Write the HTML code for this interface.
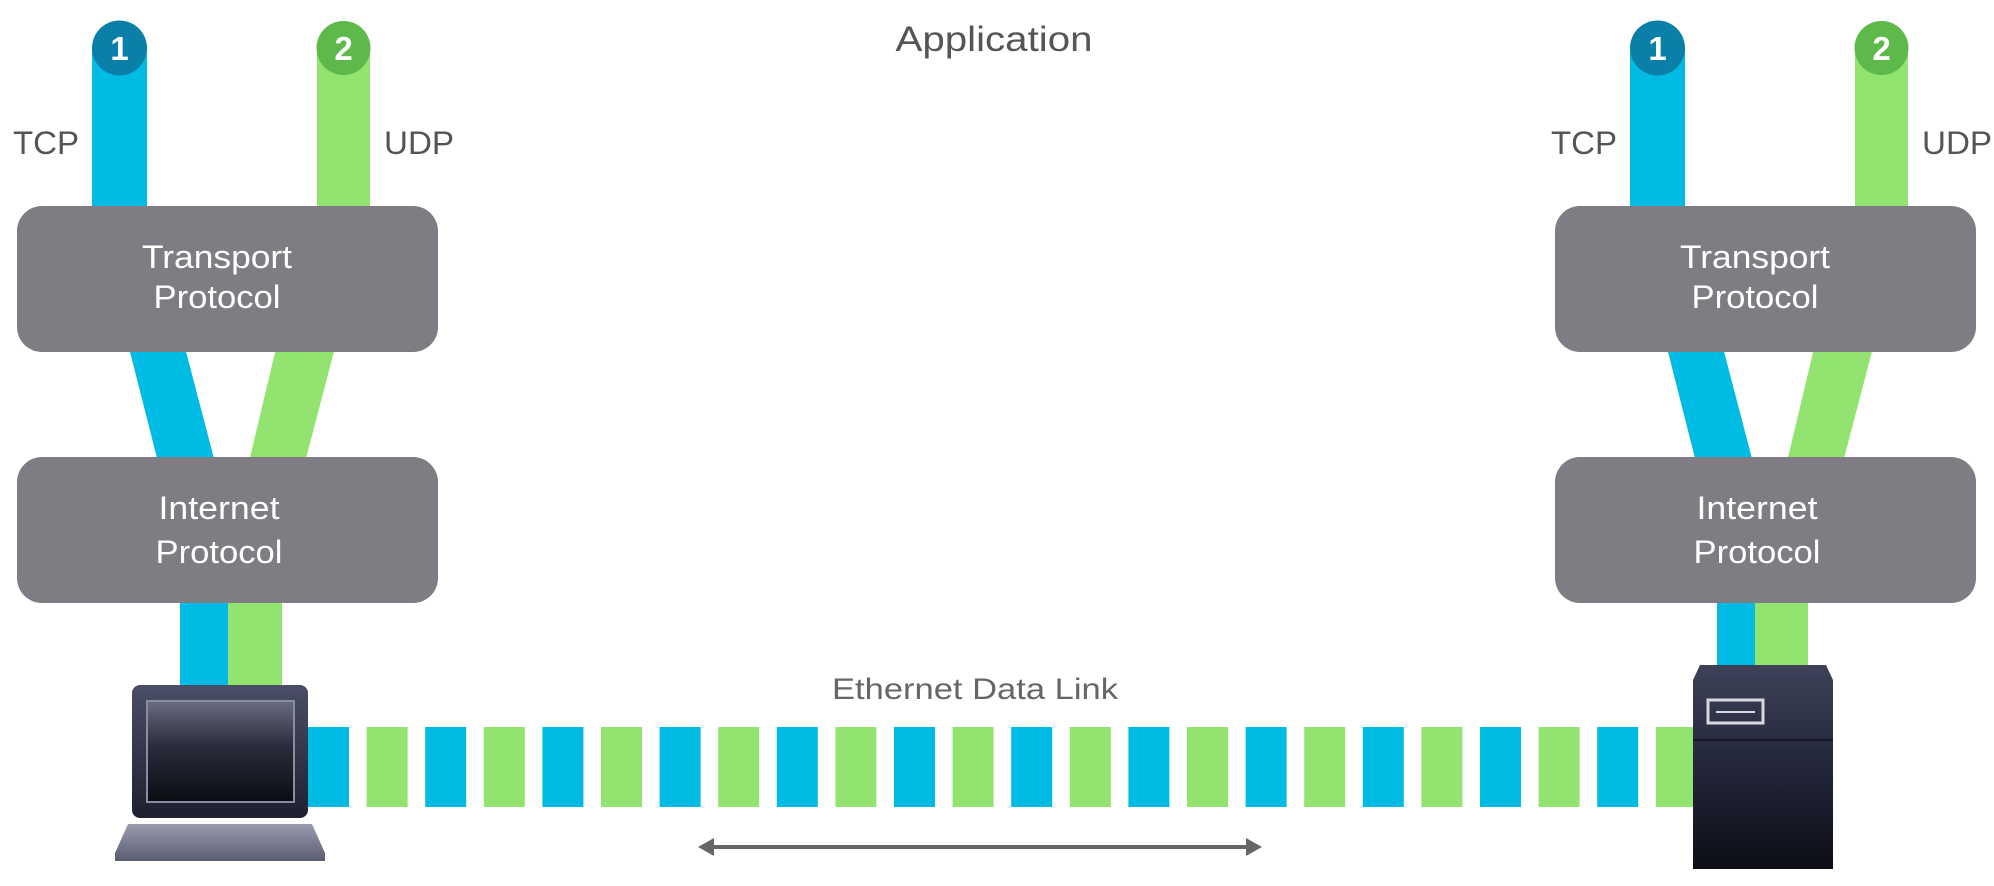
<!DOCTYPE html>
<html><head><meta charset="utf-8"><style>
html,body{margin:0;padding:0;background:#fff;}
svg{display:block;}
text{font-family:"Liberation Sans",sans-serif;}
</style></head><body>
<svg width="1994" height="886" viewBox="0 0 1994 886" xmlns="http://www.w3.org/2000/svg">
<defs>
<linearGradient id="lap" x1="0" y1="0" x2="0" y2="1">
<stop offset="0" stop-color="#4a4e66"/><stop offset="1" stop-color="#1e2030"/></linearGradient>
<linearGradient id="scr" x1="0" y1="0" x2="0" y2="1">
<stop offset="0" stop-color="#6a6d80"/><stop offset="0.45" stop-color="#2a2c3c"/><stop offset="1" stop-color="#0b0c12"/></linearGradient>
<linearGradient id="base" x1="0" y1="0" x2="0" y2="1">
<stop offset="0" stop-color="#9a9cae"/><stop offset="1" stop-color="#5a5c70"/></linearGradient>
<linearGradient id="srv" x1="0" y1="0" x2="0" y2="1">
<stop offset="0" stop-color="#3e4258"/><stop offset="0.5" stop-color="#23263a"/><stop offset="1" stop-color="#0d0e16"/></linearGradient>
<g id="stack">
  <rect x="92" y="48" width="55" height="160" fill="#00bce4"/>
  <rect x="317" y="48" width="53" height="160" fill="#92e36f"/>
  <circle cx="119.5" cy="48" r="27.5" fill="#0a7fa8"/>
  <circle cx="343.5" cy="48" r="27" fill="#5cb94a"/>
  <text x="119.5" y="60" font-size="33" font-weight="bold" fill="#fff" text-anchor="middle">1</text>
  <text x="343.5" y="60" font-size="33" font-weight="bold" fill="#fff" text-anchor="middle">2</text>
  <text x="13" y="154" font-size="32" fill="#555" textLength="66" lengthAdjust="spacingAndGlyphs">TCP</text>
  <text x="384" y="154" font-size="32" fill="#555" textLength="70" lengthAdjust="spacingAndGlyphs">UDP</text>
  <polygon points="127,340 183,340 217,470 160,470" fill="#00bce4"/>
  <polygon points="278,340 337,340 303,470 247,470" fill="#92e36f"/>
  <rect x="17" y="206" width="421" height="146" rx="25" fill="#7f7d83"/>
  <text x="217" y="268" font-size="32" fill="#fff" text-anchor="middle" textLength="150" lengthAdjust="spacingAndGlyphs">Transport</text>
  <text x="217" y="308" font-size="32" fill="#fff" text-anchor="middle" textLength="127" lengthAdjust="spacingAndGlyphs">Protocol</text>
  <rect x="17" y="457" width="421" height="146" rx="25" fill="#7f7d83"/>
  <text x="219" y="519" font-size="32" fill="#fff" text-anchor="middle" textLength="121" lengthAdjust="spacingAndGlyphs">Internet</text>
  <text x="219" y="563" font-size="32" fill="#fff" text-anchor="middle" textLength="127" lengthAdjust="spacingAndGlyphs">Protocol</text>
</g>
</defs>
<text x="994" y="51" font-size="35" fill="#555" text-anchor="middle" textLength="197" lengthAdjust="spacingAndGlyphs">Application</text>
<text x="975" y="699" font-size="30" fill="#666" text-anchor="middle" textLength="286" lengthAdjust="spacingAndGlyphs">Ethernet Data Link</text>
<!-- lower columns -->
<rect x="180" y="600" width="48" height="90" fill="#00bce4"/>
<rect x="228" y="600" width="54" height="90" fill="#92e36f"/>
<rect x="1717" y="600" width="38" height="70" fill="#00bce4"/>
<rect x="1755" y="600" width="53" height="70" fill="#92e36f"/>
<use href="#stack"/>
<use href="#stack" transform="translate(1538,0)"/>
<!-- squares -->
<g>
<rect x="308" y="727" width="41" height="80" fill="#00bce4"/>
<rect x="366.6" y="727" width="41" height="80" fill="#92e36f"/>
<rect x="425.2" y="727" width="41" height="80" fill="#00bce4"/>
<rect x="483.8" y="727" width="41" height="80" fill="#92e36f"/>
<rect x="542.4" y="727" width="41" height="80" fill="#00bce4"/>
<rect x="601" y="727" width="41" height="80" fill="#92e36f"/>
<rect x="659.6" y="727" width="41" height="80" fill="#00bce4"/>
<rect x="718.2" y="727" width="41" height="80" fill="#92e36f"/>
<rect x="776.8" y="727" width="41" height="80" fill="#00bce4"/>
<rect x="835.4" y="727" width="41" height="80" fill="#92e36f"/>
<rect x="894" y="727" width="41" height="80" fill="#00bce4"/>
<rect x="952.6" y="727" width="41" height="80" fill="#92e36f"/>
<rect x="1011.2" y="727" width="41" height="80" fill="#00bce4"/>
<rect x="1069.8" y="727" width="41" height="80" fill="#92e36f"/>
<rect x="1128.4" y="727" width="41" height="80" fill="#00bce4"/>
<rect x="1187" y="727" width="41" height="80" fill="#92e36f"/>
<rect x="1245.6" y="727" width="41" height="80" fill="#00bce4"/>
<rect x="1304.2" y="727" width="41" height="80" fill="#92e36f"/>
<rect x="1362.8" y="727" width="41" height="80" fill="#00bce4"/>
<rect x="1421.4" y="727" width="41" height="80" fill="#92e36f"/>
<rect x="1480" y="727" width="41" height="80" fill="#00bce4"/>
<rect x="1538.6" y="727" width="41" height="80" fill="#92e36f"/>
<rect x="1597.2" y="727" width="41" height="80" fill="#00bce4"/>
<rect x="1655.8" y="727" width="41" height="80" fill="#92e36f"/>
</g>
<!-- laptop -->
<rect x="132" y="685" width="176" height="133" rx="8" fill="url(#lap)"/>
<rect x="147" y="701" width="147" height="101" fill="url(#scr)" stroke="#8a8ca0" stroke-width="2"/>
<polygon points="128,824 312,824 325,853 325,861 115,861 115,853" fill="url(#base)"/>
<!-- server -->
<polygon points="1700,665 1826,665 1833,680 1833,869 1693,869 1693,680" fill="url(#srv)"/>
<rect x="1708" y="700" width="55" height="23" fill="none" stroke="#d8d8e0" stroke-width="3"/>
<line x1="1716" y1="712" x2="1755" y2="712" stroke="#d8d8e0" stroke-width="2"/>
<line x1="1693" y1="740" x2="1833" y2="740" stroke="#15172a" stroke-width="2"/>
<!-- arrow -->
<line x1="708" y1="847" x2="1251" y2="847" stroke="#666" stroke-width="4"/>
<polygon points="698,847 714,838 714,856" fill="#666"/>
<polygon points="1262,847 1246,838 1246,856" fill="#666"/>
</svg>
</body></html>
